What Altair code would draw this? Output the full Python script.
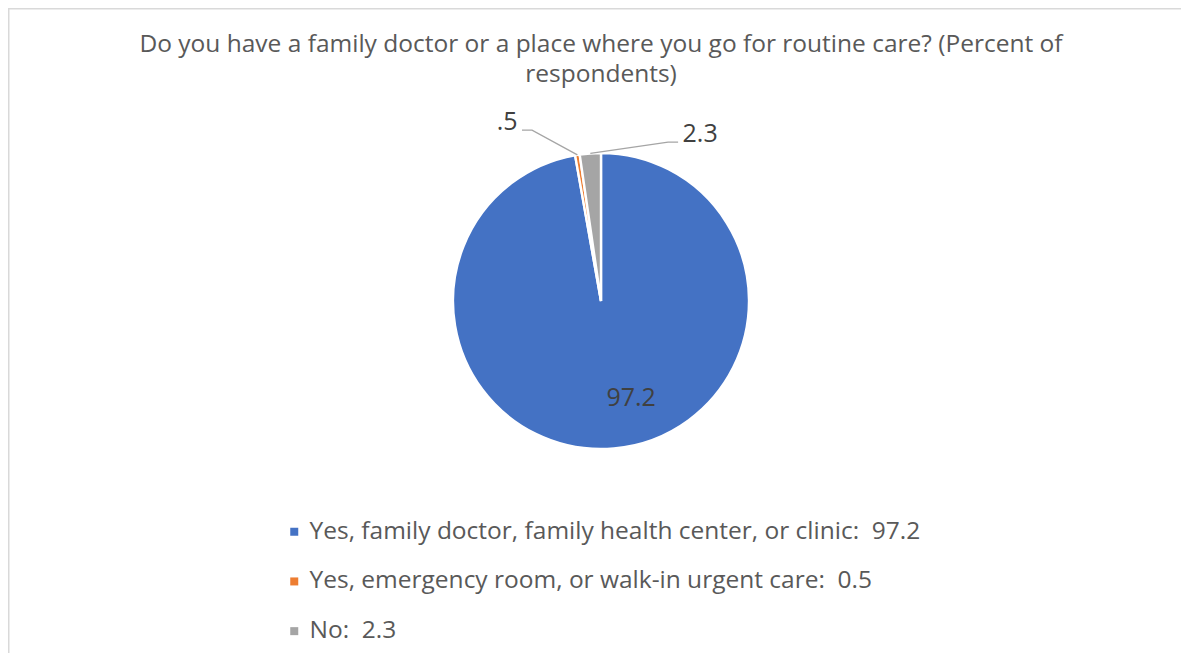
import altair as alt
import pandas as pd
import numpy as np

# ---------------- data ----------------
categories = [
    "Yes, family doctor, family health center, or clinic",
    "Yes, emergency room, or walk-in urgent care",
    "No",
]
values = [97.2, 0.5, 2.3]
data_labels = ["97.2", ".5", "2.3"]
legend_values = ["97.2", "0.5", "2.3"]
colors = ["#4472C4", "#ED7D31", "#A5A5A5"]
title_lines = [
    "Do you have a family doctor or a place where you go for routine care? (Percent of",
    "respondents)",
]

# ---------------- layout / style ----------------
W, H = 1173, 645
CX, CY, R = 593, 293, 148
FONT = "Open Sans, sans-serif"
TEXT_GREY = "#595959"
LABEL_GREY = "#404040"

legend_labels = [f"{c}:\u00a0\u00a0{v}" for c, v in zip(categories, legend_values)]
pie_df = pd.DataFrame({
    "category": categories,
    "value": values,
    "order": list(range(len(values))),
    "legend_label": legend_labels,
})

# scales in "pie radius" units, centred on the pie
xs = alt.Scale(domain=[-CX / R, (W - CX) / R], range=[0, W], nice=False, zero=False)
ys = alt.Scale(domain=[(CY - H) / R, CY / R], nice=False, zero=False)

total = float(np.sum(values))
cum = np.cumsum([0.0] + list(values))
mid_frac = (cum[:-1] + np.array(values) / 2) / total
mid_ang = mid_frac * 2 * np.pi  # clockwise from 12 o'clock

# outside labels (small slices): elbow positions are styling (pie units)
elbow = {1: (-0.466, 1.155), 2: (0.453, 1.074)}
tail = {1: -0.068, 2: 0.068}

line_rows = []
lab_rows = []
for i in (1, 2):
    rx, ry = np.sin(mid_ang[i]), np.cos(mid_ang[i])
    ex, ey = elbow[i]
    tx = ex + tail[i]
    line_rows += [
        {"seg": i, "k": 0, "x": rx, "y": ry},
        {"seg": i, "k": 1, "x": ex, "y": ey},
        {"seg": i, "k": 2, "x": tx, "y": ey},
    ]
    lab_rows.append({"seg": i, "x": tx + (0.03 if tail[i] > 0 else -0.03), "y": ey,
                     "text": data_labels[i], "side": "right" if tail[i] > 0 else "left"})
lines_df = pd.DataFrame(line_rows)
lab_df = pd.DataFrame(lab_rows)

inside_df = pd.DataFrame({
    "x": [0.7 * np.sin(mid_ang[0])],
    "y": [0.7 * np.cos(mid_ang[0])],
    "text": [data_labels[0]],
})

LEG_FS = 24.5
LAB_FS = 25

# ---------------- layers ----------------
arc = alt.Chart(pie_df).mark_arc(outerRadius=R, stroke="white", strokeWidth=2.4).encode(
    theta=alt.Theta("value:Q", stack=True),
    order=alt.Order("order:Q"),
    color=alt.Color(
        "legend_label:N",
        sort=legend_labels,
        scale=alt.Scale(domain=legend_labels, range=colors),
        legend=alt.Legend(
            orient="none", legendX=274, legendY=511.5, direction="vertical",
            title=None, symbolType="square", symbolSize=64, symbolStrokeWidth=0,
            labelFontSize=LEG_FS, labelFont=FONT, labelColor=TEXT_GREY,
            rowPadding=24.7, labelOffset=3, labelLimit=1000, padding=0,
        ),
    ),
    x=alt.value(CX),
    y=alt.value(CY),
)

leaders = alt.Chart(lines_df).mark_line(color="#A5A5A5", strokeWidth=1.3).encode(
    x=alt.X("x:Q", scale=xs, axis=None),
    y=alt.Y("y:Q", scale=ys, axis=None),
    detail="seg:N",
    order="k:Q",
)

lab_left = alt.Chart(lab_df[lab_df.side == "left"]).mark_text(
    align="right", baseline="alphabetic", font=FONT, fontSize=LAB_FS, color=LABEL_GREY
).encode(x=alt.X("x:Q", scale=xs, axis=None), y=alt.Y("y:Q", scale=ys, axis=None), text="text:N")

lab_right = alt.Chart(lab_df[lab_df.side == "right"]).mark_text(
    align="left", baseline="alphabetic", font=FONT, fontSize=LAB_FS, color=LABEL_GREY
).encode(x=alt.X("x:Q", scale=xs, axis=None), y=alt.Y("y:Q", scale=ys, axis=None), text="text:N")

inside = alt.Chart(inside_df).mark_text(
    align="center", baseline="middle", font=FONT, fontSize=LAB_FS, color=LABEL_GREY, dx=21, dy=-6
).encode(x=alt.X("x:Q", scale=xs, axis=None), y=alt.Y("y:Q", scale=ys, axis=None), text="text:N")

title = alt.Chart(pd.DataFrame({"t": [0]})).mark_text(
    align="center", baseline="middle", font=FONT, fontSize=24.5, color=TEXT_GREY, lineHeight=30
).encode(x=alt.value(CX), y=alt.value(37), text=alt.value(title_lines))

border_left = alt.Chart(pd.DataFrame({"t": [0]})).mark_rule(color="#D9D9D9", strokeWidth=1.5).encode(
    x=alt.value(0.75), y=alt.value(0), y2=alt.value(H))
border_top = alt.Chart(pd.DataFrame({"t": [0]})).mark_rule(color="#D9D9D9", strokeWidth=1.5).encode(
    y=alt.value(0.75), x=alt.value(0), x2=alt.value(W))

chart = alt.layer(
    border_left, border_top, arc, leaders, lab_left, lab_right, inside, title
).properties(
    width=W, height=H, padding=0,
    autosize=alt.AutoSizeParams(type="none"),
    background="white",
).configure_view(stroke=None)

chart.save("out.html", embed_options={"renderer": "svg", "actions": False})
